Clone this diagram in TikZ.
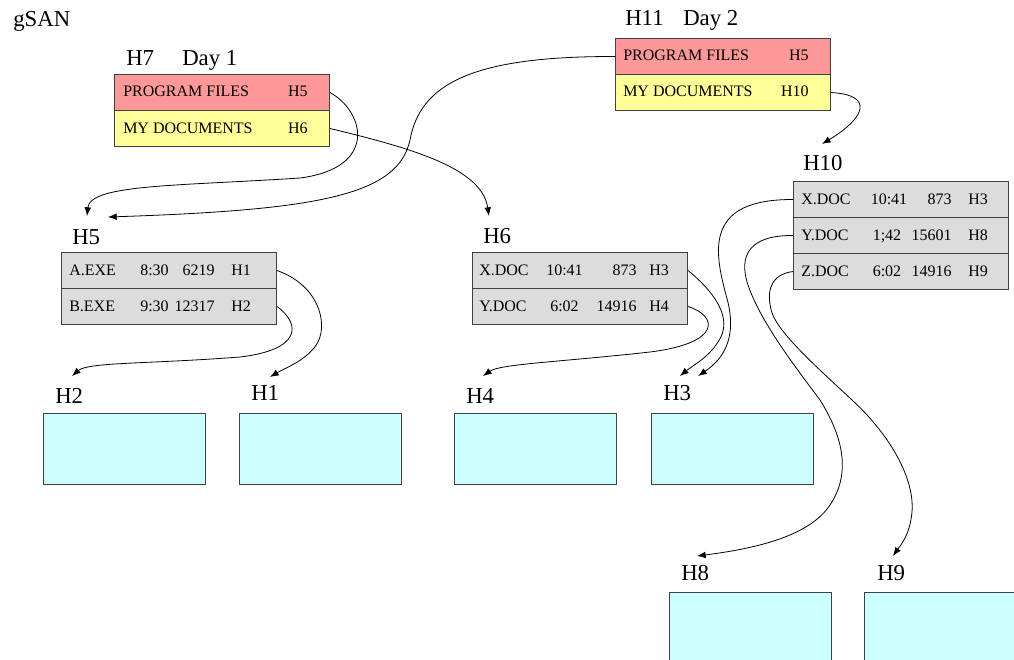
\documentclass[tikz,border=0pt]{standalone}
\usepackage{fontspec}
\setmainfont{Liberation Serif}
\usetikzlibrary{arrows.meta}
\definecolor{pinkfill}{RGB}{255,153,153}
\definecolor{yellowfill}{RGB}{255,255,153}
\definecolor{grayfill}{RGB}{220,220,220}
\definecolor{cyanfill}{RGB}{204,255,255}
\definecolor{edgec}{RGB}{64,64,64}

\begin{document}
\begin{tikzpicture}[x=0.75pt,y=-0.75pt,
  cell/.style={draw=edgec, line width=0.8pt, minimum width=161.25pt,
    minimum height=27pt, inner sep=0pt, anchor=north west},
  progrow/.style={cell, fill=pinkfill},
  docrow/.style={cell, fill=yellowfill},
  filerow/.style={cell, fill=grayfill},
  store/.style={draw=edgec, line width=0.8pt, fill=cyanfill,
    minimum width=121.5pt, minimum height=53.25pt, inner sep=0pt, anchor=north west},
  tag/.style={font=\fontsize{17.1}{19}\selectfont, inner sep=0pt, anchor=base west},
  entry/.style={font=\fontsize{12}{13}\selectfont, inner sep=0pt, anchor=base west},
  entryR/.style={entry, anchor=base east},
  entryC/.style={entry, anchor=base},
  link/.style={-{Latex[length=6.5pt,width=5pt]}, line width=0.6pt}
]
\path[use as bounding box, fill=white] (0,0) rectangle (1014,660);

% title and snapshot labels
\node[tag] (title) at (13,27) {gSAN};
\node[tag] (lh7) at (126,66) {H7};
\node[tag] (day1) at (182,66) {Day 1};
\node[tag] (lh11) at (625,26) {H11};
\node[tag] (day2) at (683,26) {Day 2};
\node[tag] (lh10) at (803,170) {H10};
\node[tag] (lh5) at (72,244) {H5};
\node[tag] (lh6) at (483,243) {H6};
\node[tag] (lh2) at (55,403) {H2};
\node[tag] (lh1) at (251,400) {H1};
\node[tag] (lh4) at (466,403) {H4};
\node[tag] (lh3) at (663,400) {H3};
\node[tag] (lh8) at (681,580) {H8};
\node[tag] (lh9) at (877,580) {H9};

% root directory, day 1
\node[progrow] (h7a) at (114,74) {};
\node[docrow] (h7b) at (114,110) {};
\node[entry] (h7an) at (123,97) {PROGRAM FILES};
\node[entryR] (h7ar) at (308,97) {H5};
\node[entry] (h7bn) at (123,133) {MY DOCUMENTS};
\node[entryR] (h7br) at (308,133) {H6};

% root directory, day 2
\node[progrow] (h11a) at (615,38) {};
\node[docrow] (h11b) at (615,74) {};
\node[entry] (h11an) at (623,61) {PROGRAM FILES};
\node[entryR] (h11ar) at (809,61) {H5};
\node[entry] (h11bn) at (623,97) {MY DOCUMENTS};
\node[entryR] (h11br) at (809,97) {H10};

% directory H5
\node[filerow] (h5a) at (61,252) {};
\node[filerow] (h5b) at (61,288) {};
\node[entry] (h5an) at (69,275) {A.EXE};
\node[entryC] (h5at) at (154.5,275) {8:30};
\node[entryR] (h5as) at (215,275) {6219};
\node[entry] (h5ar) at (231,275) {H1};
\node[entry] (h5bn) at (69,311) {B.EXE};
\node[entryC] (h5bt) at (154.5,311) {9:30};
\node[entryR] (h5bs) at (215,311) {12317};
\node[entry] (h5br) at (231,311) {H2};

% directory H6
\node[filerow] (h6a) at (472,252) {};
\node[filerow] (h6b) at (472,288) {};
\node[entry] (h6an) at (479,275) {X.DOC};
\node[entryC] (h6at) at (564.5,275) {10:41};
\node[entryR] (h6as) at (637,275) {873};
\node[entry] (h6ar) at (649,275) {H3};
\node[entry] (h6bn) at (479,311) {Y.DOC};
\node[entryC] (h6bt) at (564.5,311) {6:02};
\node[entryR] (h6bs) at (637,311) {14916};
\node[entry] (h6br) at (649,311) {H4};

% directory H10
\node[filerow] (h10a) at (793,181) {};
\node[filerow] (h10b) at (793,217) {};
\node[filerow] (h10c) at (793,253) {};
\node[entry] (h10an) at (801,204) {X.DOC};
\node[entryC] (h10at) at (889,204) {10:41};
\node[entryR] (h10as) at (952,204) {873};
\node[entry] (h10ar) at (968,204) {H3};
\node[entry] (h10bn) at (801,240) {Y.DOC};
\node[entryC] (h10bt) at (887,240) {1;42};
\node[entryR] (h10bs) at (952,240) {15601};
\node[entry] (h10br) at (968,240) {H8};
\node[entry] (h10cn) at (801,276) {Z.DOC};
\node[entryC] (h10ct) at (887,276) {6:02};
\node[entryR] (h10cs) at (952,276) {14916};
\node[entry] (h10cr) at (968,276) {H9};

% data blocks
\node[store] (b2) at (43,413) {};
\node[store] (b1) at (239,413) {};
\node[store] (b4) at (454,413) {};
\node[store] (b3) at (651,413) {};
\node[store] (b8) at (669,592) {};
\node[store] (b9) at (864,592) {};

% arrow targets above the block labels
\coordinate (t5a) at (87,216);
\coordinate (t5b) at (108,217);
\coordinate (t6) at (489,216);
\coordinate (t10) at (822,144);
\coordinate (t1) at (270,377);
\coordinate (t2) at (72,376);
\coordinate (t3a) at (680,376);
\coordinate (t3b) at (698,376);
\coordinate (t4) at (483,376);
\coordinate (t8) at (697,556);
\coordinate (t9) at (893,556);

% pointers
\draw[link] (h7a.east) .. controls (365,112) and (378,168) .. (300,178)
  .. controls (180,186) and (90,184) .. (t5a);
\draw[link] (h11a.west) .. controls (470,56) and (420,85) .. (410,140)
  .. controls (398,195) and (320,210) .. (t5b);
\draw[link] (h7b.east) .. controls (420,150) and (482,170) .. (t6);
\draw[link] (h11b.east) .. controls (875,95) and (865,118) .. (t10);
\draw[link] (h5a.east) .. controls (318,285) and (328,322) .. (318,342)
  .. controls (308,360) and (285,368) .. (t1);
\draw[link] (h5b.east) .. controls (302,325) and (300,350) .. (240,357)
  .. controls (150,364) and (88,362) .. (t2);
\draw[link] (h6a.east) .. controls (712,290) and (735,318) .. (718,342)
  .. controls (708,358) and (692,366) .. (t3a);
\draw[link] (h6b.east) .. controls (718,316) and (722,343) .. (650,352)
  .. controls (560,362) and (500,364) .. (t4);
\draw[link] (h10a.west) .. controls (705,199) and (714,250) .. (726,295)
  .. controls (738,335) and (725,358) .. (t3b);
\draw[link] (h10b.west) .. controls (750,235) and (738,255) .. (748,285)
  .. controls (760,320) and (790,360) .. (820,400)
  .. controls (845,440) and (850,475) .. (830,505)
  .. controls (810,535) and (760,548) .. (t8);
\draw[link] (h10c.west) .. controls (772,274) and (765,290) .. (772,313)
  .. controls (780,335) and (820,370) .. (852,400)
  .. controls (885,430) and (915,475) .. (912,512)
  .. controls (910,535) and (900,546) .. (t9);
\end{tikzpicture}
\end{document}
